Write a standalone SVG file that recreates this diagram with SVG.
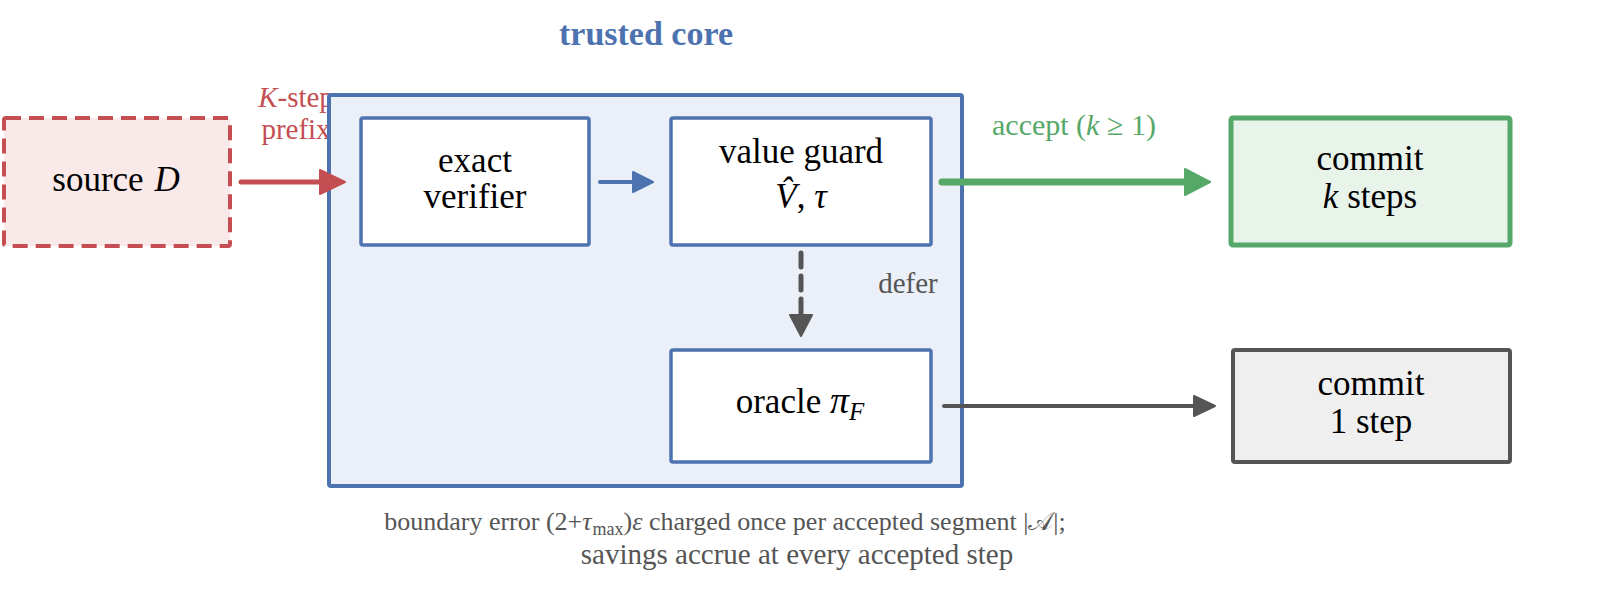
<svg xmlns="http://www.w3.org/2000/svg" width="1620" height="589" viewBox="0 0 1620 589">
<style>
text{font-family:"Liberation Serif","Times New Roman",serif;}
.n{font-size:35px;fill:#000;text-anchor:middle;}
.lbl{font-size:29px;text-anchor:middle;}
.it{font-style:italic;}
.box{fill:#fff;stroke:#4c72b0;stroke-width:3.5;}
</style>
<defs>
<marker id="ahRed" markerUnits="userSpaceOnUse" markerWidth="30" markerHeight="30" refX="16" refY="13" orient="auto" overflow="visible"><path d="M1,1 L26,13 L1,25 z" fill="#c44e52" stroke="#c44e52" stroke-width="2" stroke-linejoin="round"/></marker>
<marker id="ahBlue" markerUnits="userSpaceOnUse" markerWidth="30" markerHeight="30" refX="12" refY="11" orient="auto" overflow="visible"><path d="M1,1 L21,11 L1,21 z" fill="#4c72b0" stroke="#4c72b0" stroke-width="2" stroke-linejoin="round"/></marker>
<marker id="ahGreen" markerUnits="userSpaceOnUse" markerWidth="30" markerHeight="30" refX="16" refY="14" orient="auto" overflow="visible"><path d="M1,1 L26,14 L1,27 z" fill="#55a868" stroke="#55a868" stroke-width="2" stroke-linejoin="round"/></marker>
<marker id="ahGray" markerUnits="userSpaceOnUse" markerWidth="30" markerHeight="30" refX="13" refY="11" orient="auto" overflow="visible"><path d="M1,1 L22,11 L1,21 z" fill="#555" stroke="#555" stroke-width="2" stroke-linejoin="round"/></marker>
<marker id="ahGrayD" markerUnits="userSpaceOnUse" markerWidth="30" markerHeight="30" refX="12" refY="12" orient="auto" overflow="visible"><path d="M1,1 L22,12 L1,23 z" fill="#555" stroke="#555" stroke-width="2" stroke-linejoin="round"/></marker>
</defs>

<text class="lbl" x="296" y="107" fill="#c44e52"><tspan class="it">K</tspan>-step</text>
<text class="lbl" x="296" y="139" fill="#c44e52">prefix</text>

<g id="trusted-core">
<rect x="329" y="95" width="633" height="391" rx="2" fill="#ebf0f8" stroke="#4c72b0" stroke-width="4"/>
<text x="646" y="45" font-size="34" font-weight="bold" fill="#4c72b0" text-anchor="middle">trusted core</text>
</g>

<g id="source">
<rect x="4" y="118" width="226" height="128" rx="2" fill="#f9e9e9" stroke="#c44e52" stroke-width="4" stroke-dasharray="15,8"/>
<text class="n" x="116" y="191" font-size="36">source <tspan class="it" dx="2">D</tspan></text>
</g>

<g id="verifier">
<rect class="box" x="361" y="118" width="228" height="127" rx="2"/>
<text class="n" x="475" y="172">exact</text>
<text class="n" x="475" y="208">verifier</text>
</g>

<g id="guard">
<rect class="box" x="671" y="118" width="260" height="127" rx="2"/>
<text class="n" x="801" y="163">value guard</text>
<text class="n" x="801" y="208"><tspan class="it">V̂</tspan>, <tspan class="it">τ</tspan></text>
</g>

<g id="oracle">
<rect class="box" x="671" y="350" width="260" height="112" rx="2"/>
<text class="n" x="800" y="413">oracle <tspan class="it" font-size="38">π</tspan><tspan class="it" font-size="25" dy="7">F</tspan></text>
</g>

<g id="commit-k">
<rect x="1231" y="118" width="279" height="127" rx="2" fill="#e8f3ea" stroke="#55a868" stroke-width="5"/>
<text class="n" x="1370" y="170">commit</text>
<text class="n" x="1370" y="208"><tspan class="it">k</tspan> steps</text>
</g>

<g id="commit-1">
<rect x="1233" y="350" width="277" height="112" rx="2" fill="#efefef" stroke="#555" stroke-width="4"/>
<text class="n" x="1371" y="395">commit</text>
<text class="n" x="1371" y="433">1 step</text>
</g>

<g id="connectors" fill="none" stroke-linecap="round">
<line x1="241" y1="182" x2="335" y2="182" stroke="#c44e52" stroke-width="5" marker-end="url(#ahRed)"/>
<line x1="600" y1="182" x2="644" y2="182" stroke="#4c72b0" stroke-width="4" marker-end="url(#ahBlue)"/>
<line x1="942" y1="182" x2="1200" y2="182" stroke="#55a868" stroke-width="7" marker-end="url(#ahGreen)"/>
<line x1="801" y1="253" x2="801" y2="326" stroke="#555" stroke-width="5" stroke-dasharray="14,9" marker-end="url(#ahGrayD)"/>
<line x1="944" y1="406" x2="1206" y2="406" stroke="#555" stroke-width="4" marker-end="url(#ahGray)"/>
<text class="lbl" x="908" y="293" font-size="30" fill="#555" stroke="none">defer</text>
<text x="992" y="135" font-size="30" fill="#55a868" stroke="none">accept (<tspan class="it">k</tspan> ≥ 1)</text>
</g>

<g id="caption" fill="#555" text-anchor="middle">
<text x="725" y="530" font-size="26">boundary error (2+<tspan font-style="italic">τ</tspan><tspan font-size="18" dx="1" dy="5">max</tspan><tspan dy="-5">)</tspan><tspan font-style="italic">ε</tspan> charged once per accepted segment |𝒜|;</text>
<text x="797" y="564" font-size="29">savings accrue at every accepted step</text>
</g>
</svg>
